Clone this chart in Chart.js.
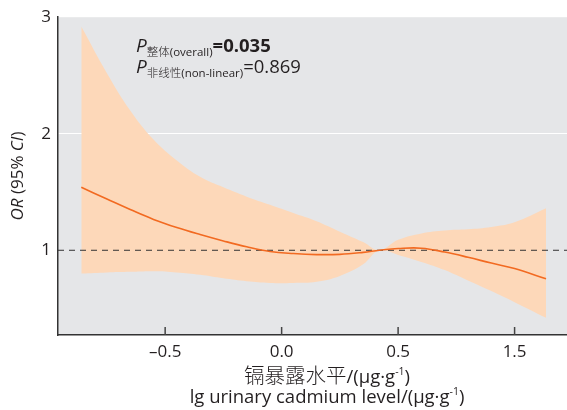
<!DOCTYPE html>
<html>
<head>
<meta charset="utf-8">
<script src="https://cdn.jsdelivr.net/npm/chart.js@4.4.1/dist/chart.umd.min.js"></script>
<style>
    html, body { margin: 0; padding: 0; background: #fff; }
</style>
</head>
<body>
<canvas id="orChart" width="567" height="410"></canvas>
<script>
// Datos (lg cadmio urinario vs OR)
const xValues     = [-0.86, -0.75, -0.65, -0.55, -0.45, -0.35, -0.25, -0.15, -0.05, 0.05, 0.15, 0.25, 0.35, 0.42, 0.5, 0.6, 0.7, 0.8, 0.9, 1.0, 1.135];
const orValues    = [1.54, 1.44, 1.35, 1.265, 1.195, 1.135, 1.08, 1.03, 0.99, 0.972, 0.963, 0.965, 0.982, 1.0, 1.015, 1.018, 0.985, 0.94, 0.89, 0.843, 0.755];
const upperValues = [2.92, 2.52, 2.20, 1.95, 1.77, 1.63, 1.54, 1.46, 1.39, 1.32, 1.25, 1.16, 1.07, 1.0, 1.09, 1.145, 1.17, 1.18, 1.20, 1.24, 1.36];
const lowerValues = [0.80, 0.81, 0.815, 0.82, 0.81, 0.79, 0.76, 0.735, 0.72, 0.72, 0.73, 0.78, 0.88, 1.0, 0.96, 0.90, 0.83, 0.74, 0.65, 0.555, 0.42];
const refValue    = 1;

const xTickValues = [-0.5, 0, 0.5, 1.0];
const xTickLabels = ['–0.5', '0.0', '0.5', '1.5'];
const yTickValues = [1, 2, 3];

const X_MIN = -0.96, X_MAX = 1.225;
const Y_MIN = 0.273, Y_MAX = 3;

const FAM = '"Open Sans", "Noto Sans CJK SC", sans-serif';
const CJK = '"Noto Sans CJK SC", sans-serif';
const TEXT = '#231f20';

const toPoints = (ys) => xValues.map((x, i) => ({ x: x, y: ys[i] }));

// Dibuja texto con tramos de distinto estilo (subíndices, cursiva...)
function drawRuns(ctx, x, y, runs, align) {
    ctx.save();
    ctx.textBaseline = 'alphabetic';
    ctx.textAlign = 'left';
    let total = 0;
    runs.forEach(r => { ctx.font = r.f; total += ctx.measureText(r.t).width; });
    let cx = align === 'center' ? x - total / 2 : x;
    runs.forEach(r => {
        ctx.font = r.f;
        ctx.fillText(r.t, cx, y + (r.dy || 0));
        cx += ctx.measureText(r.t).width;
    });
    ctx.restore();
}

const decorPlugin = {
    id: 'decor',
    beforeDraw(chart) {
        const { ctx, chartArea: a } = chart;
        ctx.save();
        ctx.fillStyle = '#e5e6e8';
        ctx.fillRect(a.left, a.top, a.right - a.left, a.bottom - a.top);
        ctx.restore();
    },
    afterDraw(chart) {
        const { ctx, chartArea: a } = chart;
        const xs = chart.scales.x;
        ctx.fillStyle = TEXT;

        // marcas del eje x hacia dentro
        ctx.save();
        ctx.strokeStyle = '#444';
        ctx.lineWidth = 1.5;
        xs.ticks.forEach((t, i) => {
            const px = xs.getPixelForTick(i);
            ctx.beginPath();
            ctx.moveTo(px, a.bottom);
            ctx.lineTo(px, a.bottom - 8);
            ctx.stroke();
        });
        ctx.restore();

        // valores P
        drawRuns(ctx, 136, 52, [
            { t: 'P', f: 'italic 19px ' + FAM },
            { t: '整体', f: '300 11.5px ' + CJK, dy: 4 },
            { t: '(overall)', f: '11.5px ' + FAM, dy: 4 },
            { t: '=0.035', f: 'bold 18.5px ' + FAM }
        ]);
        drawRuns(ctx, 136, 73, [
            { t: 'P', f: 'italic 19px ' + FAM },
            { t: '非线性', f: '300 11.5px ' + CJK, dy: 4 },
            { t: '(non-linear)', f: '11.5px ' + FAM, dy: 4 },
            { t: '=0.869', f: '18.5px ' + FAM }
        ]);

        // título eje y
        ctx.save();
        ctx.translate(23, 176);
        ctx.rotate(-Math.PI / 2);
        drawRuns(ctx, 0, 0, [
            { t: 'OR', f: 'italic 17px ' + FAM },
            { t: ' (95% ', f: '17px ' + FAM },
            { t: 'CI', f: 'italic 17px ' + FAM },
            { t: ')', f: '17px ' + FAM }
        ], 'center');
        ctx.restore();

        // título eje x (dos líneas)
        drawRuns(ctx, 327, 383, [
            { t: '镉暴露水平', f: '300 20.5px ' + CJK },
            { t: '/(μg·g', f: '18.5px ' + FAM },
            { t: '-1', f: '10.5px ' + FAM, dy: -8 },
            { t: ')', f: '18.5px ' + FAM }
        ], 'center');
        drawRuns(ctx, 327, 403, [
            { t: 'lg urinary cadmium level/(μg·g', f: '18.5px ' + FAM },
            { t: '-1', f: '10.5px ' + FAM, dy: -8 },
            { t: ')', f: '18.5px ' + FAM }
        ], 'center');
    }
};

const chart = new Chart(document.getElementById('orChart').getContext('2d'), {
    type: 'line',
    data: {
        datasets: [
            {
                label: 'lower',
                data: toPoints(lowerValues),
                borderWidth: 0,
                pointRadius: 0,
                fill: false,
                tension: 0.4,
                order: 3
            },
            {
                label: 'upper',
                data: toPoints(upperValues),
                borderWidth: 0,
                pointRadius: 0,
                backgroundColor: '#fdd8b9',
                fill: 0,
                tension: 0.4,
                order: 2
            },
            {
                label: 'OR',
                data: toPoints(orValues),
                borderColor: '#f26a21',
                borderWidth: 1.6,
                pointRadius: 0,
                fill: false,
                tension: 0.4,
                order: 0
            },
            {
                label: 'ref',
                data: [{ x: X_MIN, y: refValue }, { x: X_MAX, y: refValue }],
                borderColor: '#333',
                borderWidth: 1,
                borderDash: [6, 5],
                pointRadius: 0,
                fill: false,
                order: 1
            }
        ]
    },
    options: {
        responsive: false,
        animation: false,
        layout: { padding: { top: 16, left: 0, right: 0, bottom: 0 } },
        plugins: {
            legend: { display: false },
            tooltip: { enabled: false }
        },
        scales: {
            x: {
                type: 'linear',
                min: X_MIN,
                max: X_MAX,
                afterBuildTicks: (s) => { s.ticks = xTickValues.map(v => ({ value: v })); },
                afterFit: (s) => { s.height = 75; },
                grid: { display: true, color: 'transparent', drawTicks: false },
                border: { display: true, color: '#333', width: 1.5 },
                ticks: {
                    padding: 7,
                    color: TEXT,
                    font: { family: FAM, size: 17 },
                    callback: (v) => xTickLabels[xTickValues.indexOf(v)]
                }
            },
            y: {
                type: 'linear',
                min: Y_MIN,
                max: Y_MAX,
                afterBuildTicks: (s) => { s.ticks = yTickValues.map(v => ({ value: v })); },
                afterFit: (s) => { s.width = 58; },
                grid: {
                    drawTicks: false,
                    lineWidth: 1,
                    color: (c) => (c.tick && c.tick.value === 2 ? '#ffffff' : 'transparent')
                },
                border: { display: true, color: '#333', width: 1.5 },
                ticks: {
                    padding: 7,
                    color: TEXT,
                    font: { family: FAM, size: 17 },
                    callback: (v) => String(v)
                }
            }
        }
    },
    plugins: [decorPlugin]
});
</script>
</body>
</html>
